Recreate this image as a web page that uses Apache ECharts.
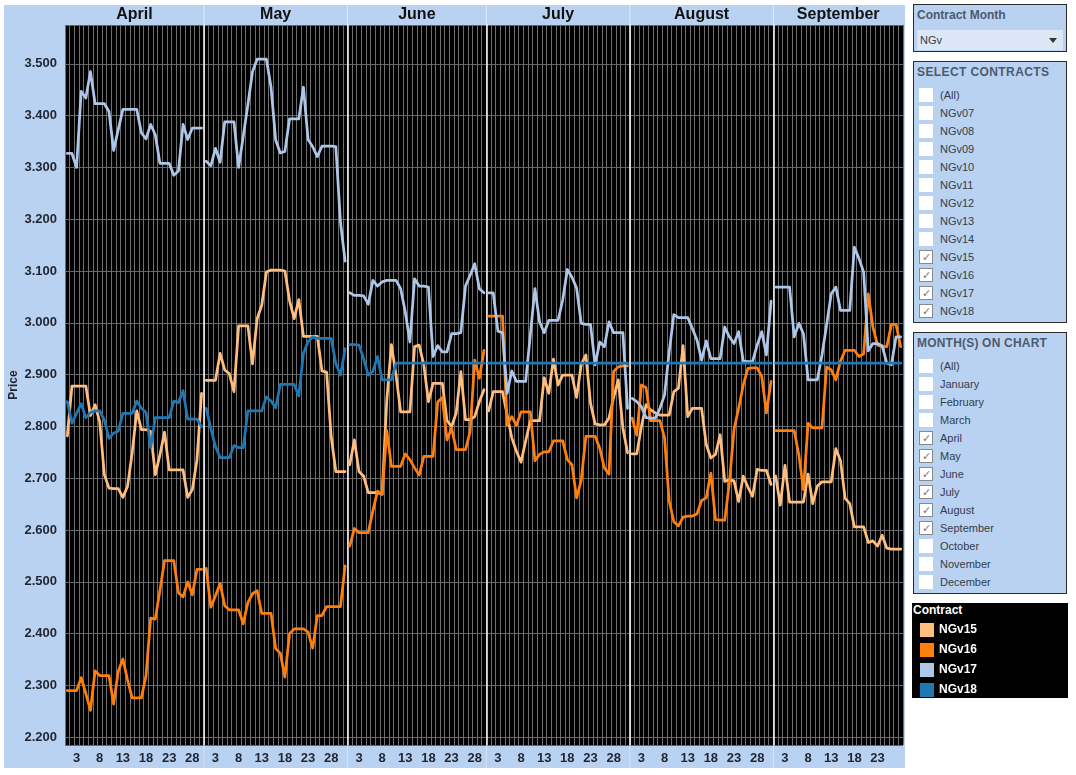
<!DOCTYPE html>
<html>
<head>
<meta charset="utf-8">
<title>NGv contracts</title>
<script src="https://cdn.jsdelivr.net/npm/echarts@6/dist/echarts.min.js"></script>
<style>
body{margin:0;background:#fff;font-family:Arial,"Liberation Sans",sans-serif;}
#wrap{position:relative;width:1076px;height:775px;overflow:hidden;}
#bg{position:absolute;left:4px;top:5px;width:901px;height:763px;background:#b9d2f1;}
#main{position:absolute;left:0;top:0;width:1076px;height:775px;z-index:2;}
.box{position:absolute;left:913px;width:154px;background:#b9d2f1;border:1px solid #2b2b2b;box-sizing:border-box;}
.box h3{margin:0;font-size:12px;line-height:14px;font-weight:bold;color:#4d5a6c;position:absolute;left:3px;top:3px;white-space:nowrap;}
.item{position:absolute;left:5px;height:14px;width:140px;font-size:11px;color:#333d4a;line-height:14px;}
.item i{position:absolute;left:0;top:0;width:14px;height:14px;background:#fff;box-sizing:border-box;}
.item.on i{border:1px solid #8a8a8a;}
.item.on i:after{content:'\2713';position:absolute;left:2px;top:0px;font-size:11px;line-height:12px;color:#777;font-style:normal;}
.item span{position:absolute;left:21px;top:0;white-space:nowrap;}
.drop{position:absolute;left:3px;top:25px;width:146px;height:20px;background:#dce7f5;font-size:11px;line-height:20px;color:#333d4a;}
.drop span{position:absolute;left:3px;}
.drop b{position:absolute;right:6px;top:8px;width:0;height:0;border-left:4px solid transparent;border-right:4px solid transparent;border-top:5px solid #333;}
#legbox{position:absolute;left:912px;top:603px;width:156px;height:95px;background:#000;}
#legbox div{position:absolute;left:1px;top:1px;color:#fff;font-size:12px;font-weight:bold;line-height:13px;}
</style>
</head>
<body>
<div id="wrap">
  <div id="bg"></div>
  <div class="box" style="top:4px;height:48px;">
    <h3>Contract Month</h3>
    <div class="drop"><span>NGv</span><b></b></div>
  </div>
  <div class="box" id="contractBox" style="top:61px;height:262px;">
    <h3 style="letter-spacing:0.4px;">SELECT CONTRACTS</h3>
  </div>
  <div class="box" id="monthBox" style="top:332px;height:262px;">
    <h3 style="letter-spacing:0.2px;">MONTH(S) ON CHART</h3>
  </div>
  <div id="legbox"><div>Contract</div></div>
  <div id="main"></div>
</div>
<script>
// 月份 / 天数
var months = ['April', 'May', 'June', 'July', 'August', 'September'];
var monthDays = [30, 31, 30, 31, 31, 28];
var contracts = ['NGv15', 'NGv16', 'NGv17', 'NGv18'];
var colors = ['#ffbe7d', '#ff7f0e', '#aec7e8', '#1f77b4'];

// filter lists
var contractList = ['(All)', 'NGv07', 'NGv08', 'NGv09', 'NGv10', 'NGv11', 'NGv12', 'NGv13', 'NGv14', 'NGv15', 'NGv16', 'NGv17', 'NGv18'];
var contractOn = ['NGv15', 'NGv16', 'NGv17', 'NGv18'];
var monthList = ['(All)', 'January', 'February', 'March', 'April', 'May', 'June', 'July', 'August', 'September', 'October', 'November', 'December'];
var monthOn = ['April', 'May', 'June', 'July', 'August', 'September'];

// daily prices, one array per month (Apr..Sep)
var ngv15 = [
    [2.782, 2.878, 2.878, 2.878, 2.878, 2.821, 2.842, 2.809, 2.707, 2.681, 2.680, 2.680, 2.663, 2.684, 2.748, 2.830, 2.794, 2.794, 2.790, 2.707, 2.745, 2.789, 2.716, 2.716, 2.716, 2.716, 2.663, 2.678, 2.735, 2.864],
    [2.889, 2.889, 2.889, 2.941, 2.909, 2.902, 2.867, 2.994, 2.994, 2.994, 2.921, 3.008, 3.034, 3.098, 3.102, 3.102, 3.102, 3.100, 3.043, 3.008, 3.045, 2.974, 2.974, 2.974, 2.974, 2.907, 2.905, 2.780, 2.713, 2.713, 2.713],
    [2.726, 2.774, 2.713, 2.704, 2.672, 2.672, 2.672, 2.669, 2.850, 2.958, 2.899, 2.828, 2.828, 2.828, 2.954, 2.957, 2.919, 2.848, 2.883, 2.883, 2.883, 2.811, 2.800, 2.826, 2.906, 2.813, 2.813, 2.819, 2.848, 2.871],
    [2.830, 2.867, 2.867, 2.867, 2.822, 2.778, 2.752, 2.731, 2.772, 2.811, 2.811, 2.811, 2.894, 2.864, 2.930, 2.880, 2.899, 2.899, 2.899, 2.856, 2.919, 2.938, 2.845, 2.805, 2.803, 2.803, 2.816, 2.856, 2.890, 2.797, 2.749],
    [2.747, 2.747, 2.800, 2.842, 2.832, 2.826, 2.822, 2.822, 2.822, 2.867, 2.874, 2.956, 2.819, 2.835, 2.835, 2.835, 2.765, 2.739, 2.746, 2.784, 2.694, 2.697, 2.695, 2.655, 2.704, 2.683, 2.665, 2.717, 2.715, 2.715, 2.688],
    [2.704, 2.648, 2.725, 2.654, 2.654, 2.654, 2.654, 2.708, 2.651, 2.685, 2.693, 2.693, 2.693, 2.757, 2.734, 2.661, 2.651, 2.606, 2.606, 2.606, 2.576, 2.579, 2.569, 2.590, 2.565, 2.563, 2.563, 2.563]
];
var ngv16 = [
    [2.290, 2.290, 2.290, 2.315, 2.284, 2.252, 2.328, 2.319, 2.319, 2.319, 2.264, 2.327, 2.351, 2.311, 2.276, 2.276, 2.276, 2.319, 2.430, 2.428, 2.483, 2.541, 2.541, 2.541, 2.479, 2.471, 2.500, 2.475, 2.524, 2.524],
    [2.526, 2.451, 2.473, 2.497, 2.454, 2.446, 2.446, 2.446, 2.419, 2.460, 2.477, 2.483, 2.439, 2.439, 2.439, 2.371, 2.362, 2.316, 2.400, 2.409, 2.409, 2.409, 2.403, 2.372, 2.435, 2.435, 2.452, 2.452, 2.452, 2.452, 2.531],
    [2.569, 2.603, 2.595, 2.595, 2.595, 2.637, 2.675, 2.669, 2.792, 2.723, 2.723, 2.723, 2.747, 2.736, 2.720, 2.706, 2.742, 2.742, 2.742, 2.847, 2.856, 2.774, 2.797, 2.755, 2.755, 2.755, 2.790, 2.928, 2.893, 2.947],
    [3.013, 3.013, 3.013, 3.013, 2.803, 2.819, 2.802, 2.828, 2.828, 2.828, 2.734, 2.746, 2.751, 2.751, 2.772, 2.772, 2.772, 2.736, 2.726, 2.662, 2.696, 2.781, 2.781, 2.781, 2.758, 2.720, 2.708, 2.906, 2.915, 2.917, 2.917],
    [2.816, 2.783, 2.880, 2.875, 2.811, 2.811, 2.811, 2.778, 2.656, 2.616, 2.608, 2.625, 2.627, 2.627, 2.631, 2.657, 2.662, 2.710, 2.620, 2.619, 2.619, 2.691, 2.794, 2.835, 2.880, 2.912, 2.913, 2.913, 2.896, 2.826, 2.887],
    [2.792, 2.792, 2.792, 2.792, 2.792, 2.745, 2.678, 2.806, 2.797, 2.797, 2.797, 2.915, 2.909, 2.890, 2.926, 2.947, 2.947, 2.947, 2.935, 2.940, 3.056, 2.992, 2.957, 2.954, 2.954, 2.997, 2.997, 2.954]
];
var ngv17 = [
    [3.327, 3.327, 3.300, 3.447, 3.434, 3.485, 3.423, 3.423, 3.423, 3.408, 3.333, 3.373, 3.412, 3.412, 3.412, 3.412, 3.367, 3.355, 3.383, 3.363, 3.308, 3.308, 3.308, 3.285, 3.293, 3.383, 3.354, 3.376, 3.376, 3.376],
    [3.312, 3.303, 3.337, 3.310, 3.388, 3.388, 3.388, 3.300, 3.360, 3.421, 3.485, 3.509, 3.509, 3.509, 3.455, 3.353, 3.328, 3.331, 3.394, 3.394, 3.394, 3.455, 3.354, 3.340, 3.321, 3.341, 3.341, 3.341, 3.340, 3.194, 3.119],
    [3.058, 3.053, 3.053, 3.052, 3.036, 3.082, 3.071, 3.079, 3.082, 3.082, 3.082, 3.066, 3.021, 2.963, 3.085, 3.071, 3.071, 3.069, 2.935, 2.956, 2.944, 2.944, 2.979, 2.979, 2.981, 3.071, 3.092, 3.114, 3.066, 3.058],
    [3.058, 3.058, 2.984, 2.981, 2.864, 2.907, 2.887, 2.887, 2.887, 2.976, 3.066, 3.002, 2.981, 3.005, 3.005, 3.005, 3.044, 3.103, 3.088, 3.067, 2.999, 2.997, 2.997, 2.919, 2.963, 2.954, 3.002, 2.981, 2.981, 2.981, 2.835],
    [2.854, 2.848, 2.838, 2.817, 2.816, 2.816, 2.835, 2.861, 2.944, 3.016, 3.010, 3.010, 3.010, 2.989, 2.967, 2.928, 2.965, 2.931, 2.931, 2.931, 2.992, 2.973, 2.960, 2.983, 2.926, 2.925, 2.925, 2.957, 2.983, 2.938, 3.042],
    [3.069, 3.069, 3.069, 3.069, 2.973, 2.999, 2.979, 2.890, 2.890, 2.890, 2.938, 2.996, 3.056, 3.069, 3.024, 3.024, 3.024, 3.146, 3.124, 3.098, 2.946, 2.960, 2.960, 2.956, 2.922, 2.919, 2.973, 2.973]
];
var ngv18 = [
    [2.848, 2.806, 2.825, 2.844, 2.817, 2.827, 2.830, 2.830, 2.812, 2.777, 2.787, 2.791, 2.825, 2.825, 2.825, 2.849, 2.835, 2.827, 2.759, 2.817, 2.817, 2.817, 2.817, 2.849, 2.846, 2.869, 2.814, 2.814, 2.814, 2.800],
    [2.835, 2.796, 2.761, 2.740, 2.740, 2.740, 2.763, 2.759, 2.759, 2.830, 2.830, 2.830, 2.830, 2.857, 2.849, 2.836, 2.881, 2.881, 2.881, 2.881, 2.859, 2.941, 2.964, 2.973, 2.970, 2.970, 2.970, 2.970, 2.921, 2.899, 2.950],
    [2.958, 2.958, 2.957, 2.931, 2.899, 2.906, 2.935, 2.890, 2.890, 2.890, 2.922, 2.922, 2.922, 2.922, 2.922, 2.922, 2.922, 2.922, 2.922, 2.922, 2.922, 2.922, 2.922, 2.922, 2.922, 2.922, 2.922, 2.922, 2.922, 2.922],
    [2.922, 2.922, 2.922, 2.922, 2.922, 2.922, 2.922, 2.922, 2.922, 2.922, 2.922, 2.922, 2.922, 2.922, 2.922, 2.922, 2.922, 2.922, 2.922, 2.922, 2.922, 2.922, 2.922, 2.922, 2.922, 2.922, 2.922, 2.922, 2.922, 2.922, 2.922],
    [2.922, 2.922, 2.922, 2.922, 2.922, 2.922, 2.922, 2.922, 2.922, 2.922, 2.922, 2.922, 2.922, 2.922, 2.922, 2.922, 2.922, 2.922, 2.922, 2.922, 2.922, 2.922, 2.922, 2.922, 2.922, 2.922, 2.922, 2.922, 2.922, 2.922, 2.922],
    [2.922, 2.922, 2.922, 2.922, 2.922, 2.922, 2.922, 2.922, 2.922, 2.922, 2.922, 2.922, 2.922, 2.922, 2.922, 2.922, 2.922, 2.922, 2.922, 2.922, 2.922, 2.922, 2.922, 2.922, 2.922, 2.922, 2.922, 2.922]
];
var allData = [ngv15, ngv16, ngv17, ngv18];

// 筛选框
function fillList(boxId, list, onList) {
    var box = document.getElementById(boxId);
    for (var i = 0; i < list.length; i++) {
        var d = document.createElement('div');
        d.className = 'item' + (onList.indexOf(list[i]) >= 0 ? ' on' : '');
        d.style.top = (26 + i * 18) + 'px';
        d.innerHTML = '<i></i><span>' + list[i] + '</span>';
        box.appendChild(d);
    }
}
fillList('contractBox', contractList, contractOn);
fillList('monthBox', monthList, monthOn);

var font = 'Arial, "Liberation Sans", sans-serif';
var plotLeft = 65, plotTop = 25, plotH = 720, plotW = 838;
var totalDays = 0;
for (var i = 0; i < monthDays.length; i++) totalDays += monthDays[i];
var dayW = plotW / totalDays;

var grids = [], xAxes = [], yAxes = [], series = [], graphics = [];
var cum = 0;
for (var m = 0; m < months.length; m++) {
    var left = plotLeft + cum * dayW;
    var width = monthDays[m] * dayW;
    cum += monthDays[m];
    var days = [];
    for (var d = 1; d <= monthDays[m]; d++) days.push(String(d));

    grids.push({
        left: left, top: plotTop, width: width, height: plotH,
        show: true, backgroundColor: '#000', borderWidth: 0
    });
    xAxes.push({
        type: 'category', gridIndex: m, data: days, boundaryGap: true,
        axisLine: {show: false}, axisTick: {show: false},
        axisLabel: {
            interval: (function (last) {
                return function (idx) { return (idx - 2) % 5 === 0 && !(last && idx === 27); };
            })(m === months.length - 1),
            margin: 7, color: '#1f2430', fontSize: 13, fontWeight: 'bold', fontFamily: font
        },
        splitLine: {show: true, interval: 0, lineStyle: {color: '#707070', width: 1}}
    });
    yAxes.push({
        type: 'value', gridIndex: m, min: 2.185, max: 3.575, splitNumber: 14,
        name: m === 0 ? 'Price' : '', nameLocation: 'middle', nameGap: 45, nameRotate: 90,
        nameTextStyle: {color: '#1f2430', fontSize: 12, fontWeight: 'bold', fontFamily: font},
        axisLine: {show: m > 0, lineStyle: {color: '#ffffff', width: 1.5}},
        axisTick: {show: false},
        axisLabel: {
            show: m === 0, margin: 8, color: '#1f2430', fontSize: 13, fontWeight: 'bold', fontFamily: font,
            formatter: function (v) {
                return Math.abs(v * 10 - Math.round(v * 10)) < 1e-6 ? v.toFixed(3) : '';
            }
        },
        splitLine: {show: true, lineStyle: {color: '#646464', width: 1}}
    });
    // 月份标题
    graphics.push({
        type: 'text',
        style: {text: months[m], x: left + width / 2, y: 15, textAlign: 'center', textVerticalAlign: 'middle',
            fill: '#111', font: 'bold 16px ' + font}
    });
    if (m > 0) {
        graphics.push({type: 'line', shape: {x1: left, y1: 5, x2: left, y2: plotTop}, style: {stroke: '#e3ecf8', lineWidth: 1}});
        graphics.push({type: 'line', shape: {x1: left, y1: plotTop + plotH, x2: left, y2: 768}, style: {stroke: '#d6e3f4', lineWidth: 1}});
    }
    for (var c = 0; c < contracts.length; c++) {
        series.push({
            type: 'line', name: contracts[c], xAxisIndex: m, yAxisIndex: m,
            data: allData[c][m], symbol: 'none', silent: true,
            lineStyle: {color: colors[c], width: 2.75, join: 'round', cap: 'round'},
            itemStyle: {color: colors[c]},
            emphasis: {disabled: true}
        });
    }
}

var myChart = echarts.init(document.getElementById('main'));
var option = {
    backgroundColor: 'transparent',
    animation: false,
    textStyle: {fontFamily: font},
    grid: grids,
    xAxis: xAxes,
    yAxis: yAxes,
    legend: {
        data: contracts, orient: 'vertical', left: 915, top: 618,
        itemWidth: 14, itemHeight: 14, itemGap: 6, icon: 'rect', selectedMode: false,
        textStyle: {color: '#fff', fontSize: 12, fontWeight: 'bold', fontFamily: font}
    },
    graphic: graphics,
    series: series
};
myChart.setOption(option);
</script>
</body>
</html>
